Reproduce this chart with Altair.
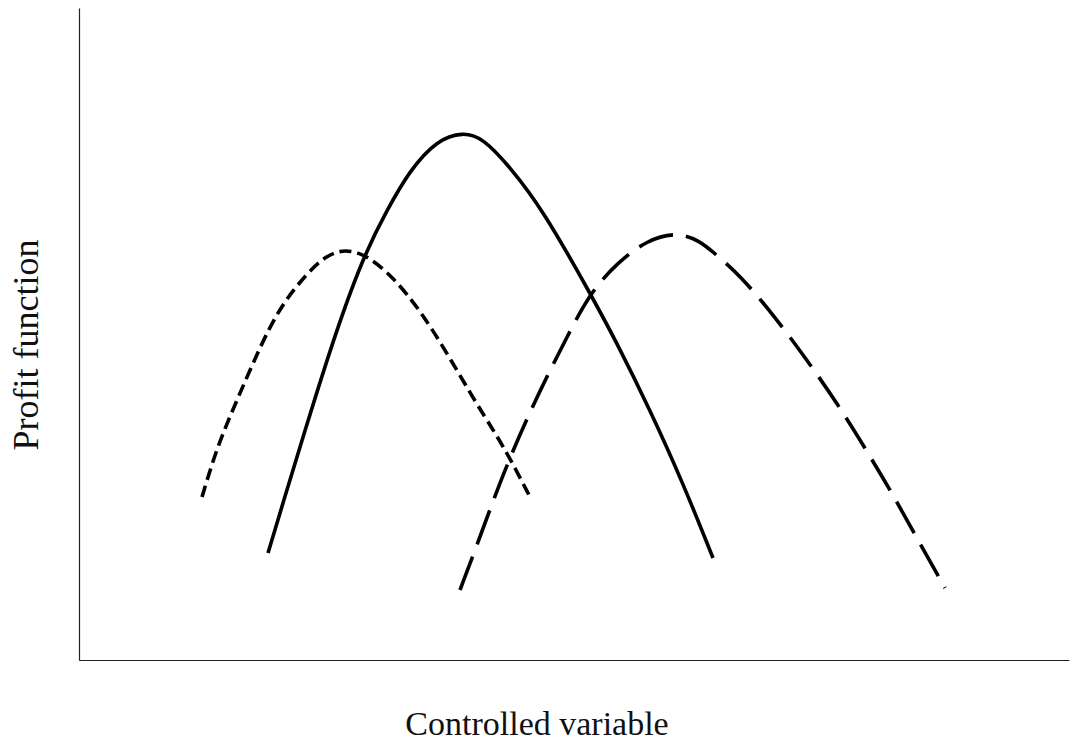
import altair as alt
import pandas as pd

# Plot area in pixels: x runs 0..990, y runs 0..652 (origin bottom-left)
X_MAX = 990
Y_MAX = 652

# Solid profit curve
solid_x = [189, 204, 224, 254, 284, 308, 331, 358, 384, 404, 431, 464, 511, 538, 571, 604, 634]
solid_y = [107, 157, 223, 320, 403, 450, 490, 520, 528, 522, 493, 450, 367, 317, 250, 177, 102]

# Short-dashed profit curve
short_x = [123, 138, 158, 181, 201, 228, 248, 266, 288, 314, 341, 368, 394, 418, 433, 451]
short_y = [163, 213, 260, 313, 353, 387, 405, 411, 405, 383, 350, 307, 262, 224, 198, 163]

# Long-dashed profit curve
long_x = [381, 401, 428, 461, 488, 511, 538, 568, 598, 621, 634, 661, 696, 728, 758, 786, 813, 839, 866]
long_y = [70, 123, 197, 270, 323, 367, 397, 420, 428, 419, 408, 385, 343, 300, 257, 212, 167, 120, 72]

x_title = "Controlled variable"
y_title = "Profit function"

x_scale = alt.Scale(domain=[0, X_MAX], nice=False, zero=False)
y_scale = alt.Scale(domain=[0, Y_MAX], nice=False, zero=False)

x_axis = alt.Axis(ticks=False, labels=False, title=None, grid=False,
                  domainColor="#222222", domainWidth=1.2)
y_axis = alt.Axis(ticks=False, labels=False, title=None, grid=False,
                  domainColor="#222222", domainWidth=1.2)


def curve(xs, ys, dash):
    df = pd.DataFrame({"x": xs, "y": ys})
    kw = dict(color="black", strokeWidth=3.6, interpolate="basis", strokeCap="butt")
    if dash:
        kw["strokeDash"] = dash
    return alt.Chart(df).mark_line(**kw).encode(
        x=alt.X("x:Q", scale=x_scale, axis=x_axis),
        y=alt.Y("y:Q", scale=y_scale, axis=y_axis),
    )


solid = curve(solid_x, solid_y, None)
short = curve(short_x, short_y, [12, 6])
long_ = curve(long_x, long_y, [36, 13])

xlab = alt.Chart(pd.DataFrame({"t": [x_title]})).mark_text(
    font="Liberation Serif", fontSize=34, color="#111111",
    align="center", baseline="alphabetic",
).encode(text="t:N", x=alt.value(458), y=alt.value(727))

ylab = alt.Chart(pd.DataFrame({"t": [y_title]})).mark_text(
    font="Liberation Serif", fontSize=36, color="#111111",
    align="center", baseline="alphabetic", angle=270,
).encode(text="t:N", x=alt.value(-41), y=alt.value(337))

chart = alt.layer(solid, short, long_, xlab, ylab).properties(
    width=X_MAX,
    height=Y_MAX,
    background="white",
    autosize=alt.AutoSizeParams(type="none"),
    padding={"left": 79, "top": 8, "right": 1, "bottom": 82},
).configure_view(strokeWidth=0, stroke=None)

chart.save("out.html", embed_options={"renderer": "svg", "actions": False})
